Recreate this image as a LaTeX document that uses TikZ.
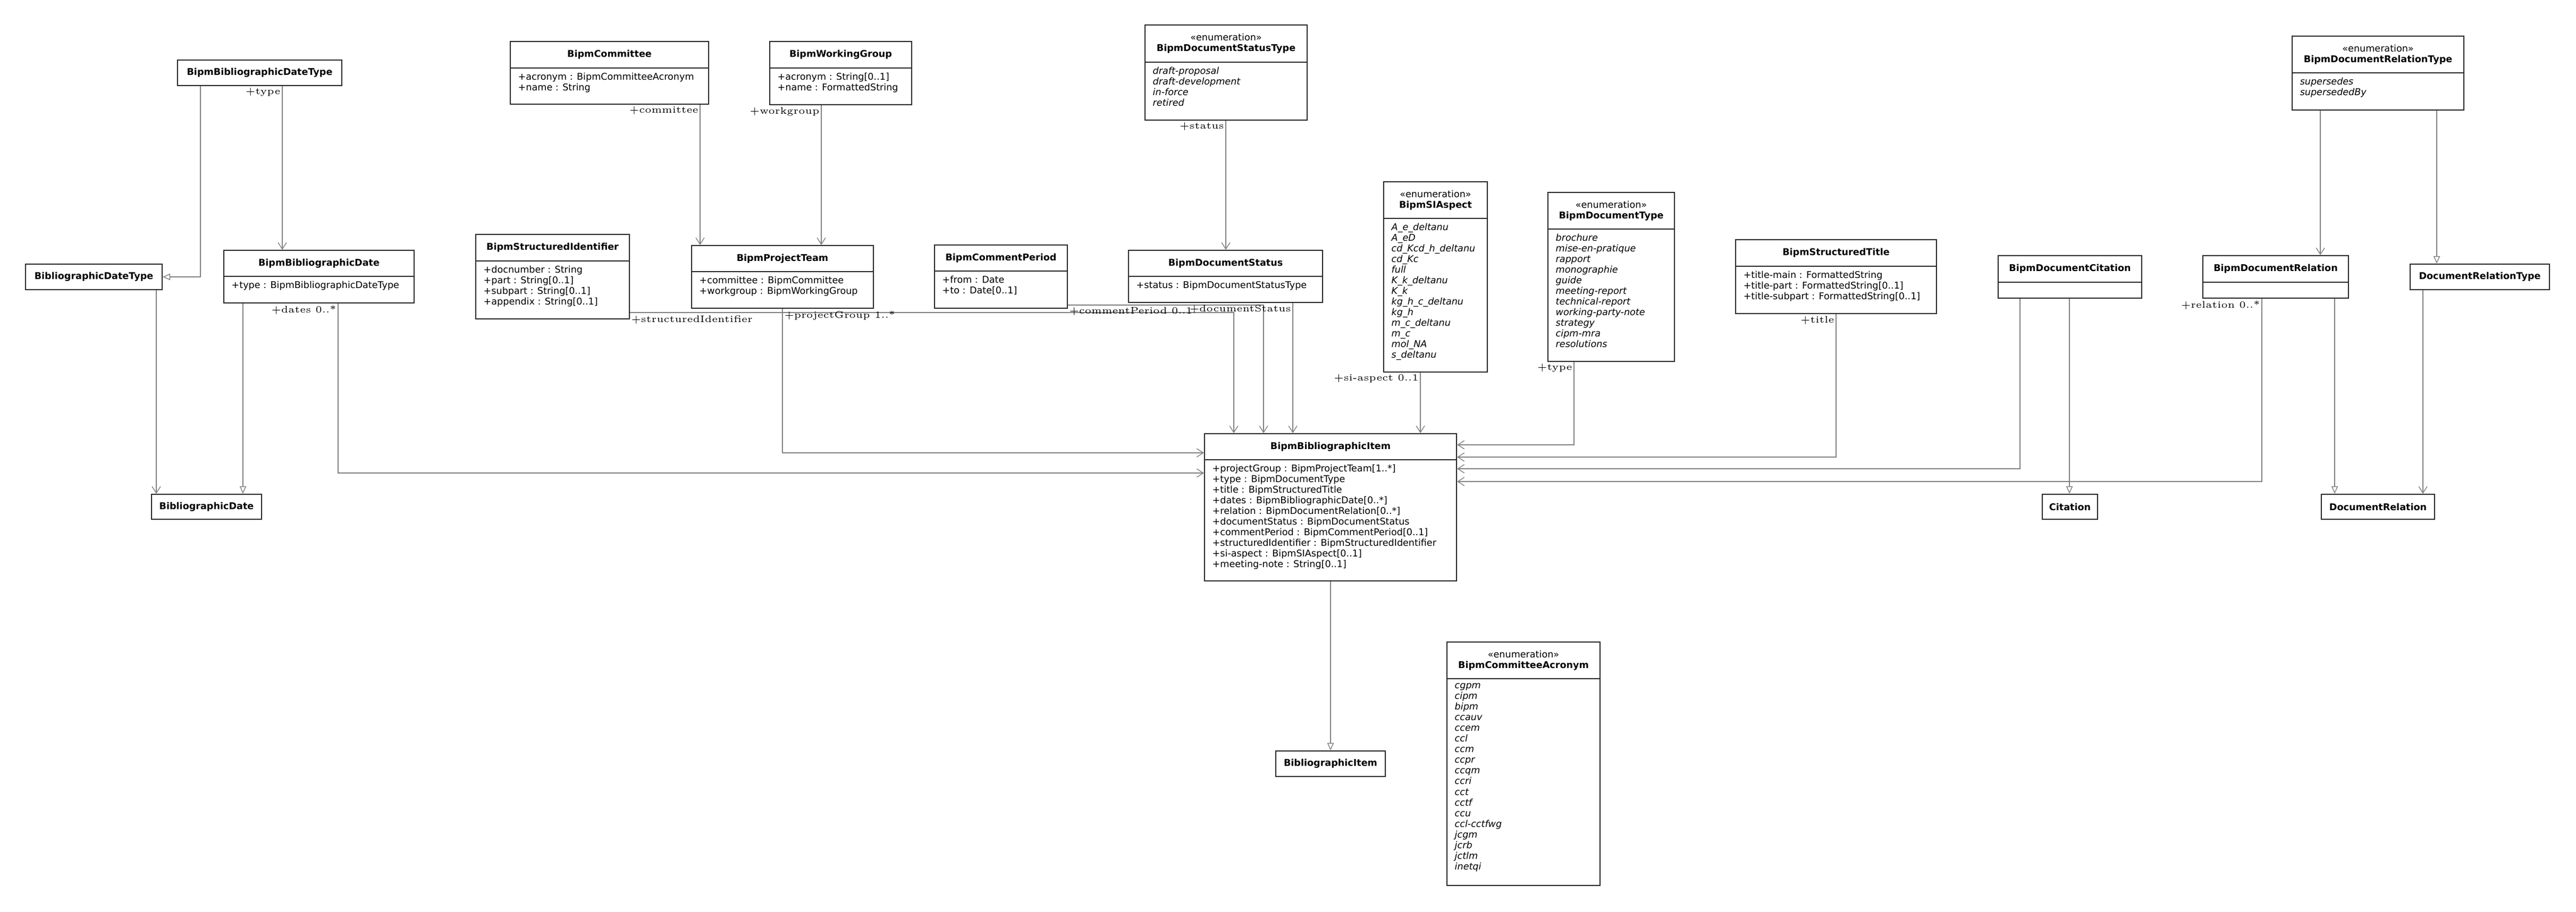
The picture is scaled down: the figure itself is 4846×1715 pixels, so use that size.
\documentclass[tikz,border=0pt]{standalone}
\usepackage{fontspec}
\newfontfamily\umlfont{DejaVu Sans}
\usetikzlibrary{arrows.meta, fit, positioning}
\tikzset{
  >={Straight Barb[length=3.5pt,width=4.5pt]}, % open association arrows
  classbox/.style={draw=black!85, line width=0.6pt, inner sep=0pt},
  ctitle/.style={font=\umlfont\fontsize{5}{5.8}\selectfont\bfseries, align=center, inner sep=0pt},
  cattr/.style={font=\umlfont\fontsize{5}{5.7}\selectfont, align=left, inner sep=0pt, anchor=north west},
  assoc/.style={->, draw=black!50, line width=0.4pt},
  gen/.style={-{Triangle[open,length=4pt,width=3.5pt]}, draw=black!50, line width=0.4pt},
  role/.style={font=\fontsize{5.1}{5.1}\selectfont, inner sep=0.8pt},
}
% class with title and attribute parts
\newcommand\umlclass[8]{%
  \path (#2,#3) coordinate (#1-nw) (#4,#5) coordinate (#1-se);
  \node[classbox, fit=(#1-nw)(#1-se)] (#1) {};
  \draw[classbox] (#2,#6) -- (#4,#6);
  \node[ctitle] at ({(#2+#4)/2},{(#3+#6)/2}) {#7};
  \node[cattr] at ({#2+14},{#6+8}) {#8};
}
% class with title only
\newcommand\umlname[6]{%
  \path (#2,#3) coordinate (#1-nw) (#4,#5) coordinate (#1-se);
  \node[classbox, fit=(#1-nw)(#1-se)] (#1) {};
  \node[ctitle] at (#1.center) {#6};
}
\newcommand\enumtitle[1]{{\mdseries «enumeration»}\\#1}

\begin{document}
\begin{tikzpicture}[x=0.01cm, y=-0.01cm]
  \useasboundingbox (0,0) rectangle (4846,1715);

  % left part
  \umlname{bbdtype}{334}{113}{643}{161}{BipmBibliographicDateType}
  \umlname{bdtype}{48}{497}{305}{545}{BibliographicDateType}
  \umlclass{bbdate}{421}{471}{779}{570}{520}{BipmBibliographicDate}{+type : BipmBibliographicDateType}
  \umlname{bdate}{285}{930}{492}{977}{BibliographicDate}
  \umlclass{bcomm}{960}{78}{1333}{196}{128}{BipmCommittee}{+acronym : BipmCommitteeAcronym\\+name : String}
  \umlclass{bwg}{1448}{78}{1715}{197}{128}{BipmWorkingGroup}{+acronym : String[0..1]\\+name : FormattedString}
  \umlclass{bsi}{895}{441}{1184}{600}{491}{BipmStructuredIdentifier}{+docnumber : String\\+part : String[0..1]\\+subpart : String[0..1]\\+appendix : String[0..1]}
  \umlclass{bpt}{1301}{462}{1643}{580}{511}{BipmProjectTeam}{+committee : BipmCommittee\\+workgroup : BipmWorkingGroup}

  % middle part
  \umlclass{bdst}{2154}{47}{2459}{226}{117}{\enumtitle{BipmDocumentStatusType}}{\itshape draft-proposal\\\itshape draft-development\\\itshape in-force\\\itshape retired}
  \umlclass{bcp}{1758}{461}{2008}{580}{510}{BipmCommentPeriod}{+from : Date\\+to : Date[0..1]}
  \umlclass{bds}{2123}{471}{2488}{569}{520}{BipmDocumentStatus}{+status : BipmDocumentStatusType}
  \umlclass{bsia}{2603}{342}{2798}{700}{411}{\enumtitle{BipmSIAspect}}{\itshape A\_e\_deltanu\\\itshape A\_eD\\\itshape cd\_Kcd\_h\_deltanu\\\itshape cd\_Kc\\\itshape full\\\itshape K\_k\_deltanu\\\itshape K\_k\\\itshape kg\_h\_c\_deltanu\\\itshape kg\_h\\\itshape m\_c\_deltanu\\\itshape m\_c\\\itshape mol\_NA\\\itshape s\_deltanu}
  \umlclass{bdt}{2912}{362}{3150}{680}{431}{\enumtitle{BipmDocumentType}}{\itshape brochure\\\itshape mise-en-pratique\\\itshape rapport\\\itshape monographie\\\itshape guide\\\itshape meeting-report\\\itshape technical-report\\\itshape working-party-note\\\itshape strategy\\\itshape cipm-mra\\\itshape resolutions}
  \umlclass{bbi}{2266}{816}{2740}{1093}{865}{BipmBibliographicItem}{+projectGroup : BipmProjectTeam[1..*]\\+type : BipmDocumentType\\+title : BipmStructuredTitle\\+dates : BipmBibliographicDate[0..*]\\+relation : BipmDocumentRelation[0..*]\\+documentStatus : BipmDocumentStatus\\+commentPeriod : BipmCommentPeriod[0..1]\\+structuredIdentifier : BipmStructuredIdentifier\\+si-aspect : BipmSIAspect[0..1]\\+meeting-note : String[0..1]}
  \umlname{bi}{2400}{1413}{2606}{1461}{BibliographicItem}
  \umlclass{bca}{2722}{1208}{3010}{1666}{1277}{\enumtitle{BipmCommitteeAcronym}}{\itshape cgpm\\\itshape cipm\\\itshape bipm\\\itshape ccauv\\\itshape ccem\\\itshape ccl\\\itshape ccm\\\itshape ccpr\\\itshape ccqm\\\itshape ccri\\\itshape cct\\\itshape cctf\\\itshape ccu\\\itshape ccl-cctfwg\\\itshape jcgm\\\itshape jcrb\\\itshape jctlm\\\itshape inetqi}

  % right part
  \umlclass{bst}{3265}{451}{3643}{590}{501}{BipmStructuredTitle}{+title-main : FormattedString\\+title-part : FormattedString[0..1]\\+title-subpart : FormattedString[0..1]}
  \umlclass{bdc}{3759}{481}{4029}{561}{531}{BipmDocumentCitation}{}
  \umlclass{bdr}{4144}{481}{4418}{561}{531}{BipmDocumentRelation}{}
  \umlclass{bdrt}{4312}{68}{4635}{207}{137}{\enumtitle{BipmDocumentRelationType}}{\itshape supersedes\\\itshape supersededBy}
  \umlname{drt}{4534}{497}{4796}{545}{DocumentRelationType}
  \umlname{cit}{3842}{930}{3946}{977}{Citation}
  \umlname{dr}{4367}{930}{4580}{977}{DocumentRelation}

  % connectors
  \draw[gen] (bbdtype.south -| 377,0) |- (bdtype.east);
  \draw[assoc] (bbdtype.south -| 531,0) -- (bbdate.north -| 531,0);
  \draw[assoc] (bdtype.south -| 294,0) -- (bdate.north -| 294,0);
  \draw[gen] (bbdate.south -| 457,0) -- (bdate.north -| 457,0);
  \draw[assoc] (bbdate.south -| 636,0) |- (bbi.west |- 0,890);
  \draw[assoc] (bcomm.south -| 1317,0) -- (bpt.north -| 1317,0);
  \draw[assoc] (bwg.south -| 1545,0) -- (bpt.north -| 1545,0);
  \draw[assoc] (bpt.south -| 1472,0) |- (bbi.west |- 0,852);
  \draw[assoc] (bsi.east |- 0,588) -| (bbi.north -| 2321,0);
  \draw[assoc] (bcp.east |- 0,574) -| (bbi.north -| 2377,0);
  \draw[assoc] (bds.south -| 2432,0) -- (bbi.north -| 2432,0);
  \draw[assoc] (bdst.south -| 2306,0) -- (bds.north -| 2306,0);
  \draw[assoc] (bsia.south -| 2672,0) -- (bbi.north -| 2672,0);
  \draw[assoc] (bdt.south -| 2961,0) |- (bbi.east |- 0,837);
  \draw[assoc] (bst.south -| 3454,0) |- (bbi.east |- 0,860);
  \draw[assoc] (bdc.south -| 3800,0) |- (bbi.east |- 0,882);
  \draw[gen] (bdc.south -| 3893,0) -- (cit.north -| 3893,0);
  \draw[assoc] (bdr.south -| 4255,0) |- (bbi.east |- 0,906);
  \draw[gen] (bdr.south -| 4392,0) -- (dr.north -| 4392,0);
  \draw[assoc] (bdrt.south -| 4365,0) -- (bdr.north -| 4365,0);
  \draw[gen] (bdrt.south -| 4584,0) -- (drt.north -| 4584,0);
  \draw[assoc] (drt.south -| 4558,0) -- (dr.north -| 4558,0);
  \draw[gen] (bbi.south) -- (bi.north);

  % role labels
  \node[role, anchor=north east] (l-type1) at (bbdtype.south -| 531,0) {+type};
  \node[role, anchor=north east] (l-dates) at (bbdate.south -| 636,0) {+dates 0..*};
  \node[role, anchor=north east] (l-comm) at (bcomm.south -| 1317,0) {+committee};
  \node[role, anchor=north east] (l-wg) at (bwg.south -| 1545,0) {+workgroup};
  \node[role, anchor=north west] (l-sid) at (1184,590) {+structuredIdentifier};
  \node[role, anchor=north west] (l-pg) at (bpt.south -| 1472,0) {+projectGroup 1..*};
  \node[role, anchor=north west] (l-cp) at (2008,575) {+commentPeriod 0..1};
  \node[role, anchor=north east] (l-ds) at (bds.south -| 2432,0) {+documentStatus};
  \node[role, anchor=north east] (l-st) at (bdst.south -| 2306,0) {+status};
  \node[role, anchor=north east] (l-si) at (bsia.south -| 2672,0) {+si-aspect 0..1};
  \node[role, anchor=north east] (l-type2) at (bdt.south -| 2961,0) {+type};
  \node[role, anchor=north east] (l-title) at (bst.south -| 3454,0) {+title};
  \node[role, anchor=north east] (l-rel) at (bdr.south -| 4255,0) {+relation 0..*};
\end{tikzpicture}
\end{document}
